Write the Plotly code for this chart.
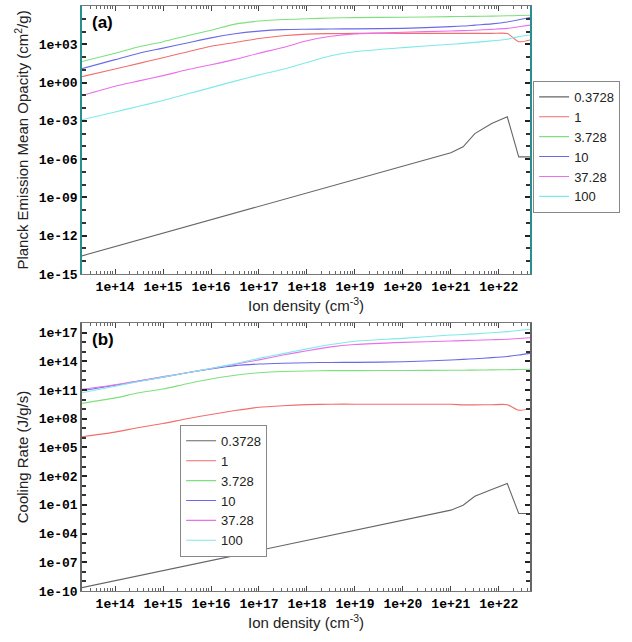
import plotly.graph_objects as go

# Ion density grid (cm^-3)
density = [2.0e13, 1.0e14, 3.16e14, 1.0e15, 3.16e15, 1.0e16, 3.16e16, 1.0e17, 3.16e17,
           1.0e18, 3.16e18, 1.0e19, 1.0e20, 1.0e21, 1.8e21, 3.16e21, 7.1e21, 1.5e22,
           2.6e22, 4.5e22]

temperatures = ["0.3728", "1", "3.728", "10", "37.28", "100"]
colors = ["#666666", "#f26d6d", "#7ee07e", "#6a6ae6", "#ea6fea", "#7fe9e9"]

# (a) Planck emission mean opacity (cm^2/g)
opacity = {
    "0.3728": [2.6e-14, 1.4e-13, 4.7e-13, 1.6e-12, 5.2e-12, 1.8e-11, 5.9e-11, 2.0e-10, 6.8e-10,
               2.2e-09, 7.6e-09, 2.5e-08, 2.8e-07, 3.2e-06, 9.3e-06, 1.0e-04, 6.3e-04, 2.1e-03,
               1.5e-06, 1.5e-06],
    "1": [2.9e+00, 1.17e+01, 3.2e+01, 8.9e+01, 2.5e+02, 7.1e+02, 1.4e+03, 2.8e+03, 4.7e+03,
          6.3e+03, 6.9e+03, 7.2e+03, 7.2e+03, 7.2e+03, 7.2e+03, 7.2e+03, 7.2e+03, 6.9e+03,
          1.6e+03, 2.2e+03],
    "3.728": [4.4e+01, 2.0e+02, 6.3e+02, 1.6e+03, 4.7e+03, 1.26e+04, 3.8e+04, 6.6e+04, 8.7e+04,
              1.0e+05, 1.15e+05, 1.23e+05, 1.32e+05, 1.48e+05, 1.51e+05, 1.55e+05, 1.62e+05,
              1.70e+05, 1.78e+05, 1.86e+05],
    "10": [1.2e+01, 6.3e+01, 2.0e+02, 5.0e+02, 1.26e+03, 3.2e+03, 6.6e+03, 1.07e+04, 1.41e+04,
           1.51e+04, 1.58e+04, 1.62e+04, 1.78e+04, 2.4e+04, 2.7e+04, 3.2e+04, 4.0e+04, 5.6e+04,
           8.3e+04, 1.26e+05],
    "37.28": [9.5e-02, 5.2e-01, 1.35e+00, 3.5e+00, 1.0e+01, 2.5e+01, 6.6e+01, 2.0e+02, 5.6e+02,
              1.9e+03, 4.2e+03, 6.6e+03, 8.7e+03, 1.10e+04, 1.17e+04, 1.26e+04, 1.48e+04,
              1.78e+04, 2.4e+04, 3.2e+04],
    "100": [1.2e-03, 5.0e-03, 1.4e-02, 4.0e-02, 1.26e-01, 4.0e-01, 1.3e+00, 4.0e+00, 1.1e+01,
            3.8e+01, 1.26e+02, 2.6e+02, 5.5e+02, 1.0e+03, 1.17e+03, 1.4e+03, 1.86e+03, 2.5e+03,
            4.0e+03, 5.4e+03],
}

# (b) Cooling rate (J/g/s)
cooling = {
    "0.3728": [2.2e-10, 1.2e-09, 4.1e-09, 1.35e-08, 4.6e-08, 1.5e-07, 5.1e-07, 1.7e-06, 5.8e-06,
               1.9e-05, 6.5e-05, 2.1e-04, 2.5e-03, 2.8e-02, 9.1e-02, 7.9e-01, 4.0e+00, 1.7e+01,
               1.26e-02, 1.26e-02],
    "1": [1.3e+06, 4.0e+06, 1.23e+07, 3.2e+07, 1.0e+08, 2.8e+08, 7.1e+08, 1.58e+09, 2.3e+09,
          2.95e+09, 3.3e+09, 3.3e+09, 3.3e+09, 3.2e+09, 2.8e+09, 2.8e+09, 2.9e+09, 2.9e+09,
          7.9e+08, 1.12e+09],
    "3.728": [4.0e+09, 1.5e+10, 5.1e+10, 1.26e+11, 4.5e+11, 1.4e+12, 3.5e+12, 6.3e+12, 8.5e+12,
              9.8e+12, 1.05e+13, 1.07e+13, 1.1e+13, 1.15e+13, 1.17e+13, 1.2e+13, 1.26e+13,
              1.32e+13, 1.38e+13, 1.45e+13],
    "10": [8.3e+10, 3.2e+11, 8.5e+11, 2.2e+12, 6.3e+12, 1.58e+13, 3.5e+13, 5.2e+13, 6.3e+13,
           7.1e+13, 7.6e+13, 7.8e+13, 8.9e+13, 1.35e+14, 1.58e+14, 1.86e+14, 2.4e+14, 3.2e+14,
           4.5e+14, 6.8e+14],
    "37.28": [1.15e+11, 3.5e+11, 9.3e+11, 2.5e+12, 6.3e+12, 1.8e+13, 5.0e+13, 1.4e+14, 4.5e+14,
              1.26e+15, 3.2e+15, 5.6e+15, 9.5e+15, 1.32e+16, 1.45e+16, 1.58e+16, 1.78e+16,
              2.0e+16, 2.4e+16, 2.9e+16],
    "100": [5.1e+10, 2.5e+11, 7.9e+11, 2.2e+12, 6.3e+12, 1.8e+13, 5.6e+13, 2.0e+14, 6.3e+14,
            2.0e+15, 5.6e+15, 1.26e+16, 2.5e+16, 5.5e+16, 6.3e+16, 7.4e+16, 9.5e+16, 1.26e+17,
            1.66e+17, 2.2e+17],
}

# Axis tick exponents
x_tick_exps = list(range(14, 23))
y_label_exps_a = list(range(-15, 4, 3))
y_label_exps_b = list(range(-10, 18, 3))


def line_style(name, col):
    # the coldest curve has a sharp peak, so it stays piecewise-linear
    if name == "0.3728":
        return dict(color=col, width=1.1, shape="linear")
    return dict(color=col, width=1.1, shape="spline", smoothing=0.7)


fig = go.Figure()

for name, col in zip(temperatures, colors):
    fig.add_trace(go.Scatter(x=density, y=opacity[name], mode="lines", name=name,
                             line=line_style(name, col), xaxis="x", yaxis="y",
                             legend="legend"))
for name, col in zip(temperatures, colors):
    fig.add_trace(go.Scatter(x=density, y=cooling[name], mode="lines", name=name,
                             line=line_style(name, col), xaxis="x2", yaxis="y2",
                             legend="legend2"))

tick_font = dict(family="Liberation Mono", size=13, color="black", weight="bold")
title_font = dict(family="Liberation Sans", size=15, color="#222")
legend_font = dict(family="Liberation Sans", size=13, color="#222")

minor_x = [m * 10.0 ** e for e in range(13, 23) for m in range(2, 10)]


def xaxis_cfg(anchor):
    return dict(
        type="log", range=[13.31, 22.65], anchor=anchor,
        tickvals=[10.0 ** e for e in x_tick_exps],
        ticktext=[f"1e{e:+03d}" for e in x_tick_exps],
        ticks="inside", ticklen=5, tickcolor="#444", mirror="allticks",
        showline=True, linecolor="#777", linewidth=1, showgrid=False, zeroline=False,
        minor=dict(tickvals=minor_x, ticks="inside", ticklen=3, tickcolor="#666"),
        tickfont=tick_font,
        title=dict(text="Ion density (cm<sup>-3</sup>)", font=title_font, standoff=4),
    )


def yaxis_cfg(label_exps, rng, domain, anchor, title, linecolor):
    decades = [10.0 ** e for e in range(int(rng[0]), int(rng[1]) + 1)]
    return dict(
        type="log", range=rng, domain=domain, anchor=anchor,
        tickvals=[10.0 ** e for e in label_exps],
        ticktext=[f"1e{e:+03d}" for e in label_exps],
        ticks="inside", ticklen=5, tickwidth=1.5, tickcolor="#222", mirror="allticks",
        showline=True, linecolor=linecolor, linewidth=1.5, showgrid=False, zeroline=False,
        minor=dict(tickvals=decades, ticks="inside", ticklen=4, tickwidth=1.5,
                   tickcolor="#333"),
        tickfont=tick_font,
        title=dict(text=title, font=title_font, standoff=6),
    )


fig.update_layout(
    width=632, height=642,
    margin=dict(l=82, r=102, t=6, b=51),
    paper_bgcolor="white", plot_bgcolor="white",
    xaxis=xaxis_cfg("y"),
    xaxis2=xaxis_cfg("y2"),
    yaxis=yaxis_cfg(y_label_exps_a, [-15, 6], [0.5419, 1.0], "x",
                    "Planck Emission Mean Opacity (cm<sup>2</sup>/g)", "#2a8f8f"),
    yaxis2=yaxis_cfg(y_label_exps_b, [-10, 18], [0.0, 0.4581], "x2",
                     "Cooling Rate (J/g/s)", "#666"),
    legend=dict(x=1.007, y=0.872, xanchor="left", yanchor="top",
                bordercolor="#888", borderwidth=1, bgcolor="white",
                font=legend_font, tracegroupgap=0),
    legend2=dict(x=0.219, y=0.284, xanchor="left", yanchor="top",
                 bordercolor="#888", borderwidth=1, bgcolor="white",
                 font=legend_font, tracegroupgap=0),
    annotations=[
        dict(text="<b>(a)</b>", xref="paper", yref="paper", x=0.018, y=0.992,
             xanchor="left", yanchor="top", showarrow=False,
             font=dict(family="Liberation Sans", size=17, color="black")),
        dict(text="<b>(b)</b>", xref="paper", yref="paper", x=0.018, y=0.45,
             xanchor="left", yanchor="top", showarrow=False,
             font=dict(family="Liberation Sans", size=17, color="black")),
    ],
)

fig.write_html("out.html")
